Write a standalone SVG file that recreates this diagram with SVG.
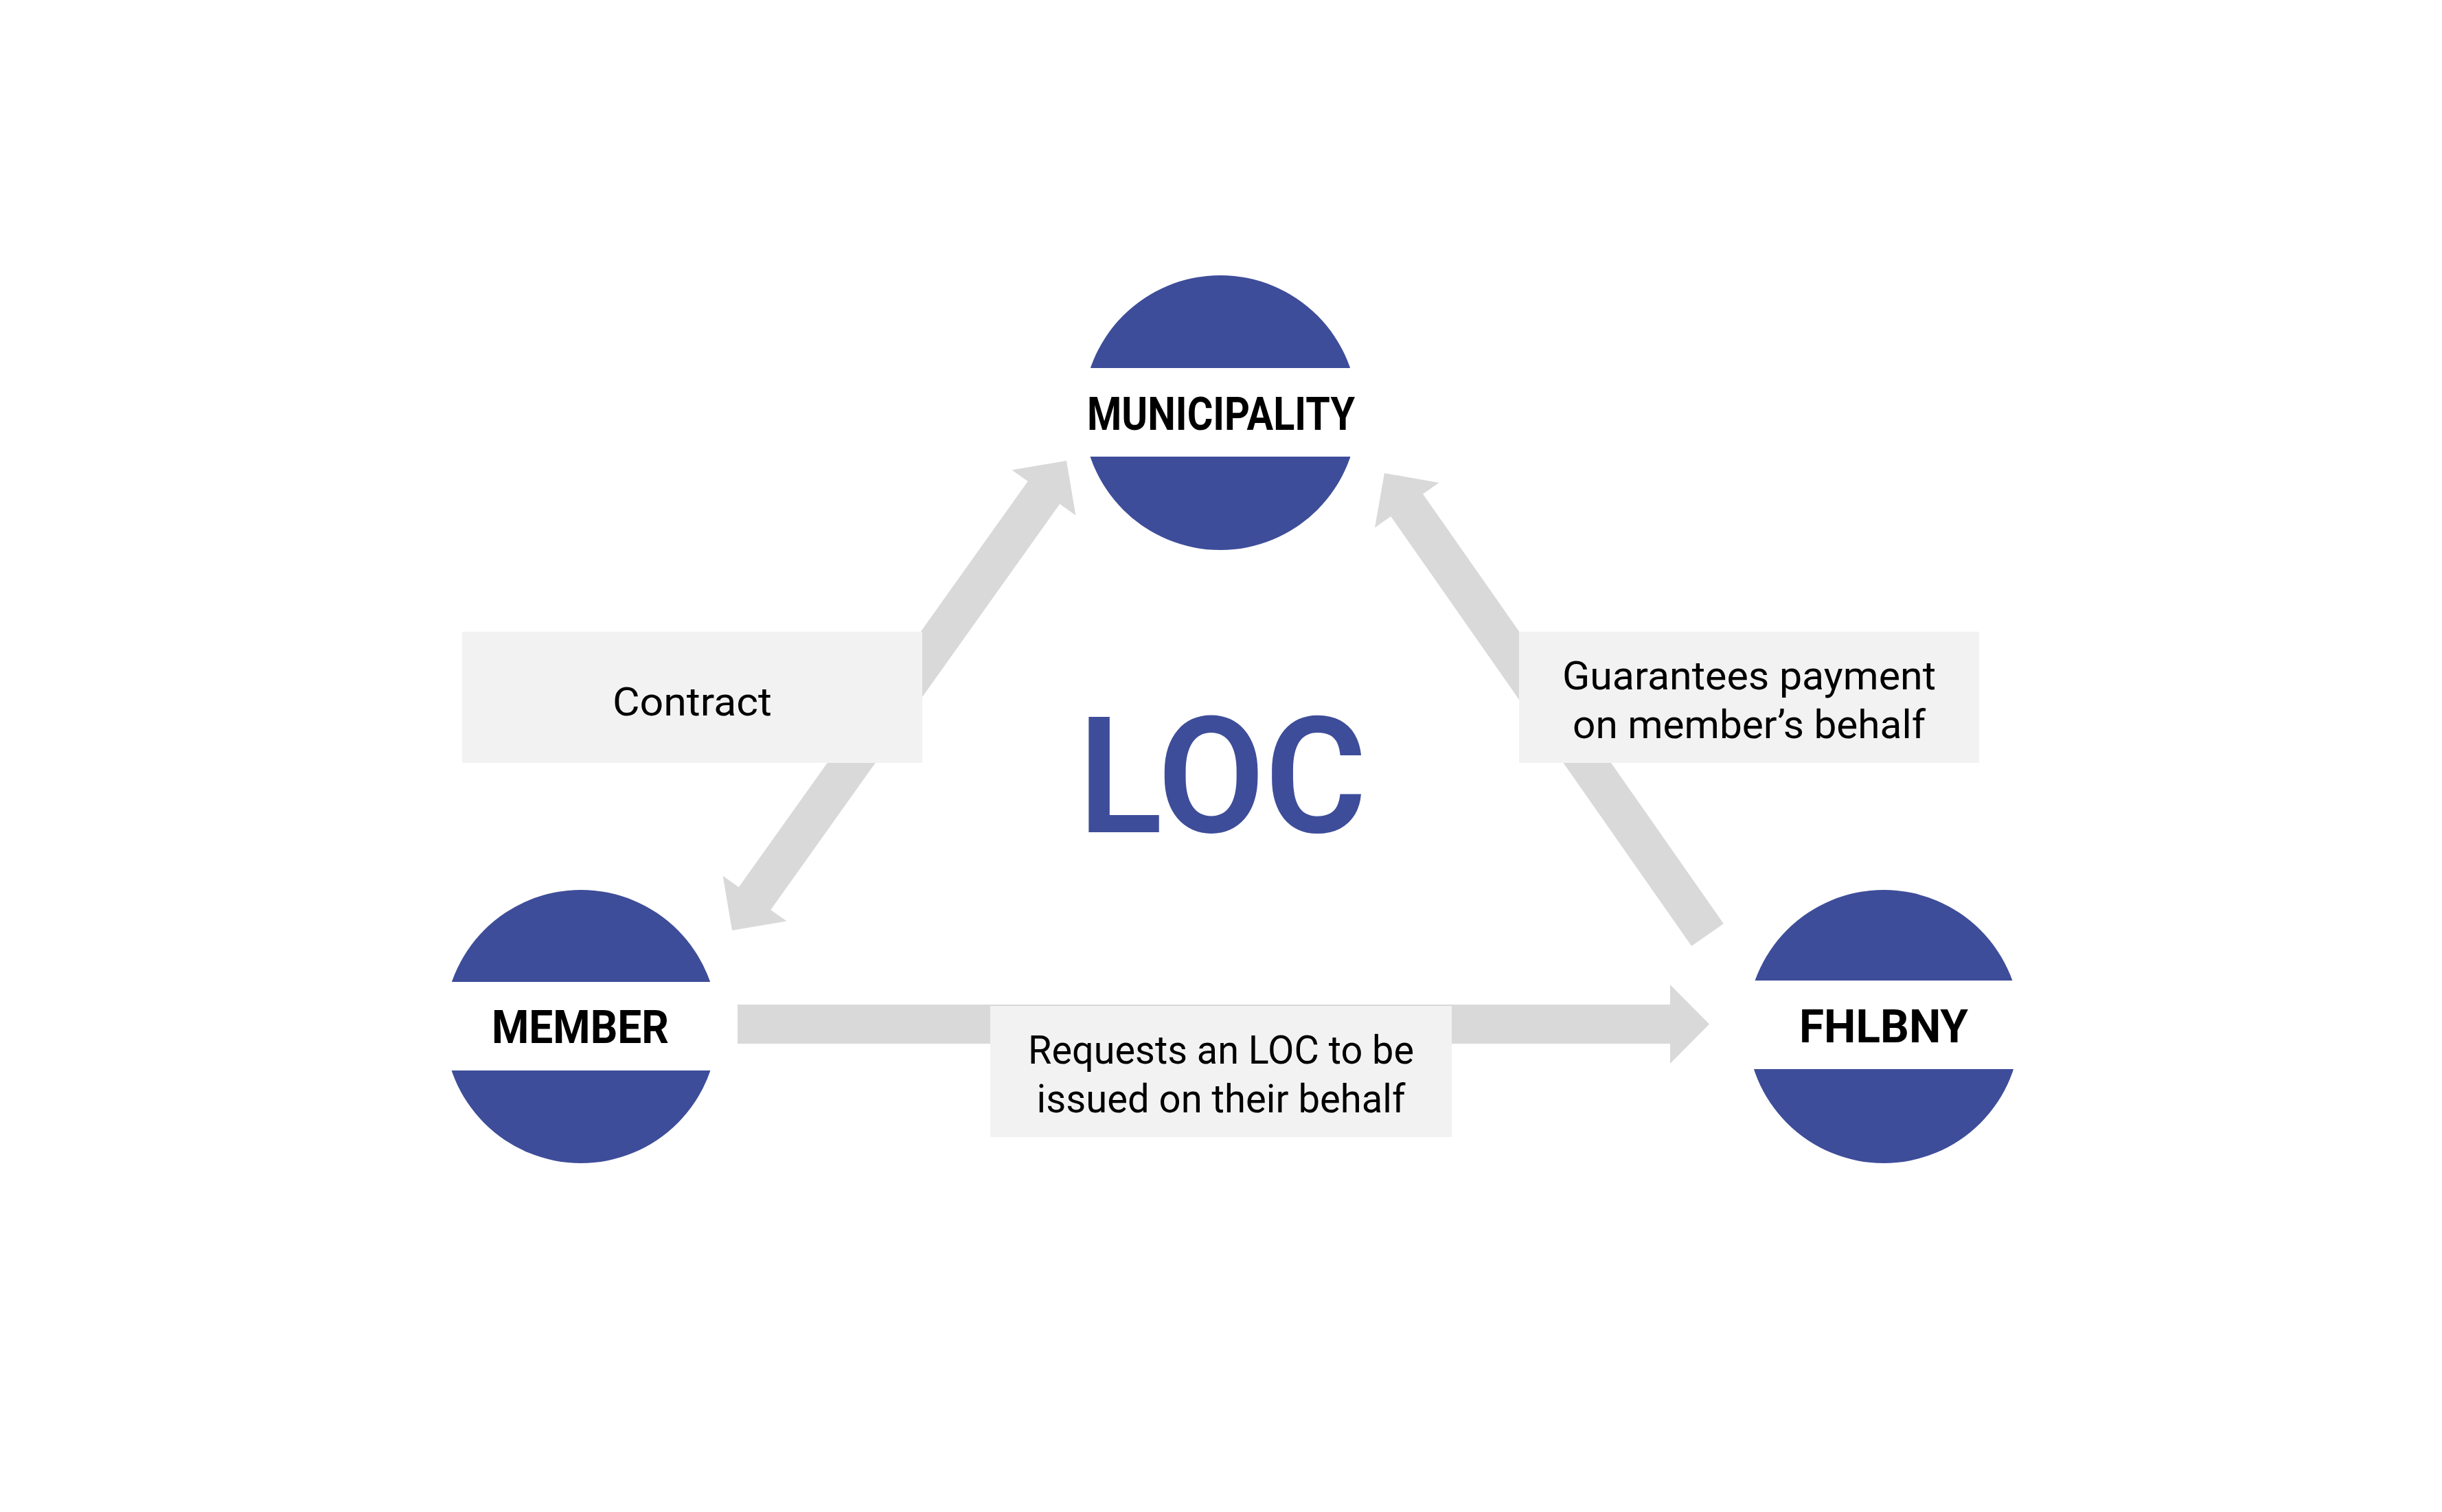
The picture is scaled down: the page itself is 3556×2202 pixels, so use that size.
<svg xmlns="http://www.w3.org/2000/svg" width="3556" height="2202" viewBox="0 0 3556 2202">
<style>
.arrow{fill:#D9D9D9}
.box{fill:#F2F2F2}
.disc{fill:#3E4D99}
.band{fill:#FFFFFF}
.lbl{font-family:Roboto,"Liberation Sans",sans-serif;font-size:58px;fill:#000;text-anchor:middle}
.node{font-family:Roboto,"Liberation Sans",sans-serif;font-size:66px;font-weight:700;fill:#000;text-anchor:middle}
.big{font-family:Roboto,"Liberation Sans",sans-serif;font-size:236px;font-weight:600;fill:#3E4D99;text-anchor:middle}
</style>
<rect width="3556" height="2202" fill="#FFFFFF"/>
<g id="connectors">
<polygon class="arrow" points="1553,671 1566.4,750.5 1543.2,734 1122.3,1325.1 1145.5,1341.6 1066,1355 1052.6,1275.5 1075.8,1292 1496.7,700.9 1473.5,684.4"/>
<polygon class="arrow" points="2016,689 2095.4,703 2072,719.4 2509.9,1345.2 2463.2,1377.8 2025.3,752 2002,768.4"/>
<polygon class="arrow" points="1074,1463 2432,1463 2432,1434 2489,1491.5 2432,1549 2432,1520 1074,1520"/>
</g>
<g id="label-contract">
<rect class="box" x="673" y="920" width="670" height="191"/>
<text class="lbl" x="1008" y="1042" textLength="232" lengthAdjust="spacingAndGlyphs">Contract</text>
</g>
<g id="label-guarantees">
<rect class="box" x="2212" y="920" width="670" height="191"/>
<text class="lbl" x="2547" y="1004" textLength="544" lengthAdjust="spacingAndGlyphs">Guarantees payment</text>
<text class="lbl" x="2547" y="1075" textLength="514" lengthAdjust="spacingAndGlyphs">on member’s behalf</text>
</g>
<g id="label-requests">
<rect class="box" x="1442" y="1465" width="672" height="191"/>
<text class="lbl" x="1778" y="1549" textLength="562" lengthAdjust="spacingAndGlyphs">Requests an LOC to be</text>
<text class="lbl" x="1778" y="1620" textLength="537" lengthAdjust="spacingAndGlyphs">issued on their behalf</text>
</g>
<g id="node-municipality">
<circle class="disc" cx="1777" cy="601" r="200"/>
<rect class="band" x="1575" y="536" width="404" height="129"/>
<text class="node" x="1778" y="626" textLength="390" lengthAdjust="spacingAndGlyphs">MUNICIPALITY</text>
</g>
<g id="node-member">
<circle class="disc" cx="846" cy="1495" r="199"/>
<rect class="band" x="645" y="1430" width="402" height="129"/>
<text class="node" x="845" y="1519" textLength="258" lengthAdjust="spacingAndGlyphs">MEMBER</text>
</g>
<g id="node-fhlbny">
<circle class="disc" cx="2743" cy="1495" r="199"/>
<rect class="band" x="2542" y="1428" width="402" height="129"/>
<text class="node" x="2743" y="1518" textLength="246" lengthAdjust="spacingAndGlyphs">FHLBNY</text>
</g>
<g id="title-loc">
<text class="big" x="1780" y="1212" textLength="420" lengthAdjust="spacingAndGlyphs">LOC</text>
</g>
</svg>
